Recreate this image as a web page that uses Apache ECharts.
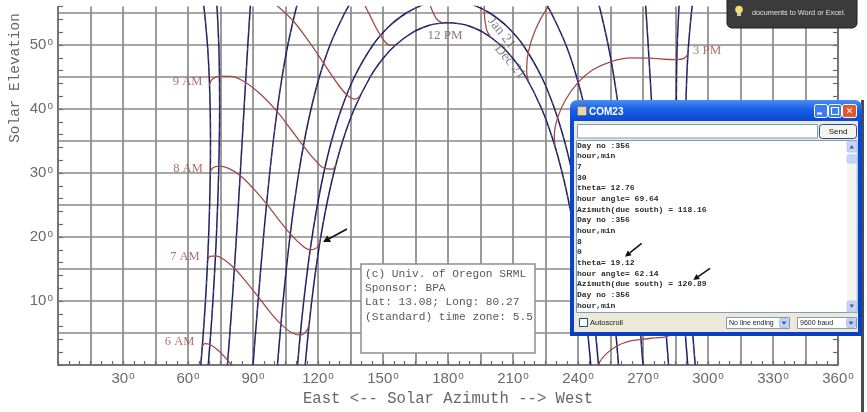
<!DOCTYPE html>
<html>
<head>
<meta charset="utf-8">
<script src="https://cdn.jsdelivr.net/npm/echarts@6.0.0/dist/echarts.min.js"></script>
<style>
html,body{margin:0;padding:0;background:#ffffff;}
#c{width:867px;height:412px;}
</style>
</head>
<body>
<div id="c"></div>
<script>
// ---------------- DATA (azimuth in degrees from north, elevation in degrees) ----------------
// Date arcs: elevation steps shared by branches that leave the top of the chart
const arcElev = [0, 5, 10, 15, 20, 25, 30, 35, 40, 45, 50, 55, 57];
const jun21Am = [65.9, 67.07, 68.06, 68.87, 69.51, 69.98, 70.28, 70.38, 70.24, 69.8, 68.99, 67.65, 66.91];
const jun21Pm = [294.1, 292.93, 291.94, 291.13, 290.49, 290.02, 289.72, 289.62, 289.76, 290.2, 291.01, 292.35, 293.09];
const may21Am = [69.34, 70.5, 71.5, 72.36, 73.09, 73.68, 74.15, 74.45, 74.6, 74.53, 74.21, 73.54, 73.14];
const may21Pm = [290.66, 289.5, 288.5, 287.64, 286.91, 286.32, 285.85, 285.55, 285.4, 285.47, 285.79, 286.46, 286.86];
const apr20Am = [78.19, 79.33, 80.39, 81.39, 82.34, 83.25, 84.13, 85.0, 85.86, 86.72, 87.61, 88.56, 88.96];
const apr20Pm = [281.81, 280.67, 279.61, 278.61, 277.66, 276.75, 275.87, 275.0, 274.14, 273.28, 272.39, 271.44, 271.04];
const mar20Am = [90, 91.16, 92.35, 93.57, 94.85, 96.22, 97.71, 99.36, 101.24, 103.43, 106.07, 109.38, 110.96];
const mar20Pm = [270, 268.84, 267.65, 266.43, 265.15, 263.78, 262.29, 260.64, 258.76, 256.57, 253.93, 250.62, 249.04];
const feb20Am = [101.3, 102.53, 103.88, 105.37, 107.04, 108.93, 111.12, 113.69, 116.79, 120.62, 125.55, 132.33, 135.84];
const feb20Pm = [258.7, 257.47, 256.12, 254.63, 252.96, 251.07, 248.88, 246.31, 243.21, 239.38, 234.45, 227.67, 224.16];
// Arcs that close over the top
const jan21Elev = [0, 5, 10, 15, 20, 25, 30, 35, 40, 45, 50, 53, 55, 56, 56.5, 56.92, 56.5, 56, 55, 53, 50, 45, 40, 35, 30, 25, 20, 15, 10, 5, 0];
const jan21Az = [110.55, 111.88, 113.42, 115.2, 117.27, 119.72, 122.65, 126.24, 130.79, 136.79, 145.38, 153.09, 160.74, 166.48, 170.8, 180,
                 189.2, 193.52, 199.26, 206.91, 214.62, 223.21, 229.21, 233.76, 237.35, 240.28, 242.73, 244.8, 246.58, 248.12, 249.45];
const dec21Elev = [0, 5, 10, 15, 20, 25, 30, 35, 40, 45, 48, 50, 52, 53, 53.3, 53.48, 53.3, 53, 52, 50, 48, 45, 40, 35, 30, 25, 20, 15, 10, 5, 0];
const dec21Az = [114.1, 115.48, 117.11, 119.02, 121.27, 123.98, 127.28, 131.39, 136.73, 144.08, 150.28, 155.8, 163.9, 170.7, 174.27, 180,
                 185.73, 189.3, 196.1, 204.2, 209.72, 215.92, 223.27, 228.61, 232.72, 236.02, 238.73, 240.98, 242.89, 244.52, 245.9];

// Hour lines (points ordered Dec 21 -> Jun 21)
const h6amAz = [83.48, 78.36, 73.9, 70.1, 67.67, 66.58];
const h6amEl = [-1.53, 0.72, 2.31, 3.2, 3.34, 2.81];
const h7amAz = [115.98, 114.7, 111.8, 107.74, 102.9, 98.14, 92.5, 86.76, 81.41, 76.7, 72.68, 70.13, 69.05];
const h7amEl = [6.59, 5.32, 4.66, 5.08, 6.39, 8.15, 10.61, 13.03, 15.11, 16.44, 17.05, 16.99, 16.35];
const h8amAz = [121.0, 119.5, 116.4, 112.2, 107.2, 102.27, 96.27, 90.0, 84.06, 78.75, 74.22, 71.4, 70.28];
const h8amEl = [19.45, 18.34, 18.0, 18.82, 20.5, 22.53, 25.18, 27.63, 29.6, 30.72, 31.07, 30.79, 30.07];
const h9amAz = [128.41, 126.57, 123.13, 118.63, 113.27, 107.85, 101.09, 93.78, 86.58, 80.06, 74.53, 71.17, 69.93];
const h9amEl = [31.49, 30.6, 30.71, 32.03, 34.23, 36.64, 39.62, 42.22, 44.15, 45.09, 45.15, 44.64, 43.82];
const h10amAz = [139.44, 137.13, 133.24, 128.41, 122.6, 116.52, 108.48, 99.12];
const h10amEl = [42.07, 41.54, 42.24, 44.25, 47.17, 50.2, 53.78, 56.74];
const h11amAz = [155.73, 152.93, 148.88, 144.22, 138.61];
const h11amEl = [49.98, 50.0, 51.51, 54.43, 58.35];
const h12pmAz = [177.3, 174.52, 171.41];
const h12pmEl = [53.45, 54.16, 56.56];
const h1pmAz = [199.63, 197.67, 196.69, 197.78];
const h1pmEl = [51.25, 52.57, 55.51, 59.5];
const h2pmAz = [217.28, 216.3, 217.03, 220.25, 226.12, 233.75];
const h2pmEl = [44.21, 45.86, 48.8, 52.3, 55.92, 58.8];
const h3pmAz = [229.4, 229.08, 230.58, 234.33, 240.08, 246.67, 255.35, 264.4, 272.75, 279.8, 285.6, 289.21, 290.74];
const h3pmEl = [34.13, 35.87, 38.62, 41.49, 44.16, 46.09, 47.42, 48.0, 47.95, 47.77, 47.73, 47.96, 48.62];
const h4pmAz = [237.51, 237.55, 239.39, 243.12, 248.41, 254.1, 261.29, 268.58, 275.28, 280.95, 285.61, 288.49, 289.63];
const h4pmEl = [22.35, 24.14, 26.62, 28.98, 30.98, 32.31, 33.1, 33.43, 33.38, 33.39, 33.64, 34.12, 34.88];
const h5pmAz = [243.02, 245.3, 253.93, 265.52, 277.87, 286.96, 290.37];
const h5pmEl = [9.65, 13.65, 17.15, 18.58, 18.86, 19.62, 21.14];
const h6pmAz = [247.22, 249.4, 253.12, 257.98, 262.97, 269.07, 275.19, 280.79, 289.35, 292.41];
const h6pmEl = [-1.86, 0.16, 1.78, 2.97, 3.66, 3.99, 4.24, 4.45, 5.73, 7.52];

// Tick labels
const xTickLabels = [30, 60, 90, 120, 150, 180, 210, 240, 270, 300, 330, 360];
const yTickLabels = [10, 20, 30, 40, 50];

// Serial monitor text
const monitorLines = ["Day no :356", "hour,min", "7", "30", "theta= 12.76", "hour angle= 69.64",
  "Azimuth(due south) = 118.16", "Day no :356", "hour,min", "8", "0", "theta= 19.12",
  "hour angle= 62.14", "Azimuth(due south) = 120.89", "Day no :356", "hour,min"];
const infoLines = ["(c) Univ. of Oregon SRML", "Sponsor: BPA", "Lat: 13.08; Long: 80.27", "(Standard) time zone: 5.5"];

// ---------------- BUILD ----------------
function pairs(az, el) { return az.map(function (a, i) { return [a, el[i]]; }); }

const navy = '#1f1f4e', blue = '#4a4ad8', brown = '#a14b48';
const series = [];
const dateBranches = [
  [jun21Am, arcElev], [jun21Pm, arcElev], [may21Am, arcElev], [may21Pm, arcElev],
  [apr20Am, arcElev], [apr20Pm, arcElev], [mar20Am, arcElev], [mar20Pm, arcElev],
  [feb20Am, arcElev], [feb20Pm, arcElev], [jan21Az, jan21Elev], [dec21Az, dec21Elev]
];
dateBranches.forEach(function (b) {
  const d = pairs(b[0], b[1]);
  series.push({ type: 'line', data: d, smooth: 0.3, symbol: 'none', silent: true, z: 3,
    lineStyle: { color: navy, width: 1.5 } });
  series.push({ type: 'line', data: d, smooth: 0.3, symbol: 'none', silent: true, z: 4,
    lineStyle: { color: blue, width: 0.9, type: [3, 6] } });
});
const hourLines = [[h6amAz, h6amEl], [h7amAz, h7amEl], [h8amAz, h8amEl], [h9amAz, h9amEl],
  [h10amAz, h10amEl], [h11amAz, h11amEl], [h12pmAz, h12pmEl], [h1pmAz, h1pmEl], [h2pmAz, h2pmEl],
  [h3pmAz, h3pmEl], [h4pmAz, h4pmEl], [h5pmAz, h5pmEl], [h6pmAz, h6pmEl]];
hourLines.forEach(function (h) {
  series.push({ type: 'line', data: pairs(h[0], h[1]), smooth: 0.35, symbol: 'none', silent: true, z: 5,
    lineStyle: { color: brown, width: 1.3 } });
});

// text annotations placed in data coordinates
const serif = '"Liberation Serif", serif';
const notes = [
  { t: '6 AM', v: [56.1, 3.6], c: brown, s: 12.5 },
  { t: '7 AM', v: [58.6, 16.9], c: brown, s: 12.5 },
  { t: '8 AM', v: [60.0, 30.6], c: brown, s: 12.5 },
  { t: '9 AM', v: [59.8, 44.3], c: brown, s: 12.5 },
  { t: '12 PM', v: [178.6, 51.4], c: '#6e5553', s: 13 },
  { t: '3 PM', v: [299.5, 49.1], c: brown, s: 13 },
  { t: 'Jan 21', v: [204.7, 51.9], c: '#666', s: 14, r: -52 },
  { t: 'Dec 21', v: [208.6, 47.4], c: '#666', s: 14, r: -50 }
];
series.push({
  type: 'scatter', symbolSize: 1, silent: true, z: 6,
  itemStyle: { color: 'rgba(0,0,0,0)' },
  data: notes.map(function (n) {
    return { value: n.v, label: { show: true, position: 'inside', formatter: n.t, color: n.c,
      fontSize: n.s, fontFamily: serif, rotate: n.r || 0 } };
  })
});

const labelRich = {
  n: { fontSize: 15, color: '#6a6a6a', fontFamily: '"Liberation Sans", Arial, sans-serif' },
  d: { fontSize: 10, color: '#6a6a6a', fontFamily: '"Liberation Sans", Arial, sans-serif', verticalAlign: 'top', padding: [0, 0, 0, 1] }
};
function degLabel(list) {
  return function (v) { return list.indexOf(v) >= 0 ? '{n|' + v + '}{d|o}' : ''; };
}

// ---------------- GRAPHIC (overlays) ----------------
const Z = 100;
const mono = '"Liberation Mono", monospace';
const g = [];
// axis title (y)
g.push({ type: 'text', x: 15, y: 78, rotation: Math.PI / 2, z: 10,
  style: { text: 'Solar Elevation', fill: '#666', font: '14.4px ' + mono, align: 'center', verticalAlign: 'middle' } });
// info box
g.push({ type: 'rect', shape: { x: 361, y: 264, width: 174, height: 89 }, z: 50,
  style: { fill: '#fff', stroke: '#8f8f8f', lineWidth: 1.5 } });
infoLines.forEach(function (t, i) {
  g.push({ type: 'text', x: 365, y: 274 + i * 14.2, z: 51,
    style: { text: t, fill: '#585858', font: '11.2px ' + mono, align: 'left', verticalAlign: 'middle' } });
});
// chart arrow
g.push({ type: 'line', shape: { x1: 347, y1: 229, x2: 329, y2: 238.7 }, z: 52, style: { stroke: '#111', lineWidth: 1.6 } });
g.push({ type: 'polygon', shape: { points: [[323, 242], [331, 241.9], [327.4, 235.4]] }, z: 52, style: { fill: '#111' } });

// tooltip (top right)
g.push({ type: 'rect', shape: { x: 727, y: -5, width: 130, height: 33, r: 5 }, z: Z,
  style: { fill: '#3b3b3b', stroke: '#1e1e1e', lineWidth: 1 } });
g.push({ type: 'circle', shape: { cx: 739, cy: 9.5, r: 3.8 }, z: Z + 1, style: { fill: '#f3df70' } });
g.push({ type: 'rect', shape: { x: 737, y: 13, width: 4, height: 3 }, z: Z + 1, style: { fill: '#c8c8c8' } });
g.push({ type: 'text', x: 752, y: 13, z: Z + 1,
  style: { text: 'documents to Word or Excel.', fill: '#e2e2e2', font: '7.3px "Liberation Sans", sans-serif', align: 'left', verticalAlign: 'middle' } });

// right dark edge
g.push({ type: 'rect', shape: { x: 861, y: 100, width: 3, height: 312 }, z: Z, style: { fill: '#4a4a4a' } });

// serial monitor window
g.push({ type: 'rect', shape: { x: 570, y: 100, width: 292, height: 236, r: [7, 7, 0, 0] }, z: Z,
  style: { fill: { type: 'linear', x: 0, y: 0, x2: 0, y2: 1, colorStops: [
    { offset: 0, color: '#4a8ef5' }, { offset: 0.04, color: '#1a5fe6' }, { offset: 0.09, color: '#0a48d4' }, { offset: 1, color: '#0a3fc2' }] } } });
g.push({ type: 'rect', shape: { x: 574, y: 121, width: 284, height: 211 }, z: Z + 1, style: { fill: '#ece9d8' } });
g.push({ type: 'rect', shape: { x: 577.5, y: 124.5, width: 240, height: 13.5 }, z: Z + 2, style: { fill: '#fff', stroke: '#7f9db9', lineWidth: 1 } });
g.push({ type: 'rect', shape: { x: 819.5, y: 124.5, width: 37, height: 14, r: 3 }, z: Z + 2, style: { fill: '#f5f4ef', stroke: '#2a4e8a', lineWidth: 1 } });
g.push({ type: 'text', x: 838, y: 131.5, z: Z + 3, style: { text: 'Send', fill: '#111', font: '8px "Liberation Sans", sans-serif', align: 'center', verticalAlign: 'middle' } });
g.push({ type: 'rect', shape: { x: 576.5, y: 140.5, width: 280.5, height: 172 }, z: Z + 2, style: { fill: '#fff', stroke: '#7f9db9', lineWidth: 1 } });
// scrollbar
g.push({ type: 'rect', shape: { x: 847, y: 141, width: 9.5, height: 171 }, z: Z + 3, style: { fill: '#f4f4f0' } });
g.push({ type: 'rect', shape: { x: 847, y: 141, width: 9.5, height: 11, r: 2 }, z: Z + 4, style: { fill: '#c6d6fb', stroke: '#b0c4ee', lineWidth: 0.8 } });
g.push({ type: 'polygon', shape: { points: [[849.5, 148.5], [854, 148.5], [851.75, 145]] }, z: Z + 5, style: { fill: '#4d6185' } });
g.push({ type: 'rect', shape: { x: 847, y: 155, width: 9.5, height: 8, r: 2 }, z: Z + 4, style: { fill: '#c6d6fb', stroke: '#b0c4ee', lineWidth: 0.8 } });
g.push({ type: 'rect', shape: { x: 847, y: 301, width: 9.5, height: 11, r: 2 }, z: Z + 4, style: { fill: '#c6d6fb', stroke: '#b0c4ee', lineWidth: 0.8 } });
g.push({ type: 'polygon', shape: { points: [[849.5, 304.5], [854, 304.5], [851.75, 308]] }, z: Z + 5, style: { fill: '#4d6185' } });
monitorLines.forEach(function (t, i) {
  g.push({ type: 'text', x: 577, y: 145.7 + i * 10.66, z: Z + 4,
    style: { text: t, fill: '#2a2a2a', font: 'bold 8px ' + mono, align: 'left', verticalAlign: 'middle' } });
});
// bottom row
g.push({ type: 'rect', shape: { x: 579.5, y: 318.5, width: 8, height: 8 }, z: Z + 2, style: { fill: '#fff', stroke: '#1c5180', lineWidth: 1 } });
g.push({ type: 'text', x: 590, y: 322.8, z: Z + 2, style: { text: 'Autoscroll', fill: '#222', font: '7.5px "Liberation Sans", sans-serif', align: 'left', verticalAlign: 'middle' } });
g.push({ type: 'rect', shape: { x: 726.5, y: 317.5, width: 63, height: 11 }, z: Z + 2, style: { fill: '#fff', stroke: '#7f9db9', lineWidth: 1 } });
g.push({ type: 'text', x: 729, y: 323, z: Z + 3, style: { text: 'No line ending', fill: '#222', font: '7px "Liberation Sans", sans-serif', align: 'left', verticalAlign: 'middle' } });
g.push({ type: 'rect', shape: { x: 779.5, y: 318.5, width: 9, height: 9, r: 1.5 }, z: Z + 3, style: { fill: '#c1d3fb', stroke: '#a9bde8', lineWidth: 0.8 } });
g.push({ type: 'polygon', shape: { points: [[781.5, 321.5], [786.5, 321.5], [784, 325]] }, z: Z + 4, style: { fill: '#4d6185' } });
g.push({ type: 'rect', shape: { x: 797.5, y: 317.5, width: 59, height: 11 }, z: Z + 2, style: { fill: '#fff', stroke: '#7f9db9', lineWidth: 1 } });
g.push({ type: 'text', x: 800, y: 323, z: Z + 3, style: { text: '9600 baud', fill: '#222', font: '7px "Liberation Sans", sans-serif', align: 'left', verticalAlign: 'middle' } });
g.push({ type: 'rect', shape: { x: 846.5, y: 318.5, width: 9, height: 9, r: 1.5 }, z: Z + 3, style: { fill: '#c1d3fb', stroke: '#a9bde8', lineWidth: 0.8 } });
g.push({ type: 'polygon', shape: { points: [[848.5, 321.5], [853.5, 321.5], [851, 325]] }, z: Z + 4, style: { fill: '#4d6185' } });
// title
g.push({ type: 'rect', shape: { x: 577.5, y: 106.5, width: 9, height: 9, r: 1 }, z: Z + 2, style: { fill: '#e3d7b5', stroke: '#8a6d3b', lineWidth: 0.8 } });
g.push({ type: 'text', x: 589, y: 112, z: Z + 2, style: { text: 'COM23', fill: '#fff', font: 'bold 10px "Liberation Sans", sans-serif', align: 'left', verticalAlign: 'middle' } });
g.push({ type: 'rect', shape: { x: 814.5, y: 104.5, width: 13, height: 13, r: 2 }, z: Z + 2, style: { fill: '#3c7bf2', stroke: '#fff', lineWidth: 1 } });
g.push({ type: 'rect', shape: { x: 817, y: 112.5, width: 5, height: 2 }, z: Z + 3, style: { fill: '#fff' } });
g.push({ type: 'rect', shape: { x: 828.5, y: 104.5, width: 13, height: 13, r: 2 }, z: Z + 2, style: { fill: '#3c7bf2', stroke: '#fff', lineWidth: 1 } });
g.push({ type: 'rect', shape: { x: 831.5, y: 107.5, width: 7, height: 7 }, z: Z + 3, style: { fill: 'none', stroke: '#fff', lineWidth: 1.2 } });
g.push({ type: 'rect', shape: { x: 842.5, y: 104.5, width: 14, height: 13, r: 2 }, z: Z + 2, style: { fill: '#e0582c', stroke: '#fff', lineWidth: 1 } });
g.push({ type: 'text', x: 849.5, y: 111.5, z: Z + 3, style: { text: '✕', fill: '#fff', font: 'bold 9px "DejaVu Sans", sans-serif', align: 'center', verticalAlign: 'middle' } });
// window arrows
g.push({ type: 'line', shape: { x1: 641.7, y1: 243.3, x2: 629.7, y2: 252.9 }, z: Z + 5, style: { stroke: '#111', lineWidth: 1.5 } });
g.push({ type: 'polygon', shape: { points: [[625, 256.7], [631.6, 255.3], [627.8, 250.6]] }, z: Z + 5, style: { fill: '#111' } });
g.push({ type: 'line', shape: { x1: 710, y1: 268.3, x2: 698.2, y2: 276.6 }, z: Z + 5, style: { stroke: '#111', lineWidth: 1.5 } });
g.push({ type: 'polygon', shape: { points: [[693.3, 280], [699.9, 279.0], [696.5, 274.1]] }, z: Z + 5, style: { fill: '#111' } });

// ---------------- OPTION ----------------
const axisGray = '#6a6a6a';
const option = {
  animation: false,
  backgroundColor: '#ffffff',
  grid: { left: 58, top: 6.6, width: 780, height: 358.4 },
  xAxis: [{
    type: 'value', min: 0, max: 360, interval: 15,
    axisLine: { show: true, lineStyle: { color: axisGray, width: 1.5 } },
    axisTick: { show: true, inside: true, length: 4, lineStyle: { color: axisGray, width: 1.2 } },
    minorTick: { show: true, splitNumber: 3, length: 4, lineStyle: { color: axisGray, width: 1.2 } },
    splitLine: { show: true, lineStyle: { color: '#8a8a8a', width: 1.7 } },
    axisLabel: { show: true, margin: 6, formatter: degLabel(xTickLabels), rich: labelRich },
    name: 'East <-- Solar Azimuth --> West', nameLocation: 'middle', nameGap: 23,
    nameTextStyle: { fontFamily: mono, fontSize: 15.6, color: '#666' }
  }],
  yAxis: [{
    type: 'value', min: 0, max: 56, interval: 5, position: 'left',
    axisLine: { show: true, lineStyle: { color: axisGray, width: 1.5 } },
    axisTick: { show: false },
    splitLine: { show: true, showMaxLine: false, lineStyle: { color: '#8a8a8a', width: 1.7 } },
    axisLabel: { show: true, margin: 5, formatter: degLabel(yTickLabels), rich: labelRich }
  }, {
    type: 'value', min: 0, max: 56, interval: 2, position: 'left',
    axisLine: { show: false }, axisLabel: { show: false }, splitLine: { show: false },
    axisTick: { show: true, inside: true, length: 5, lineStyle: { color: axisGray, width: 1.2 } }
  }, {
    type: 'value', min: 0, max: 56, interval: 2, position: 'right',
    axisLine: { show: true, lineStyle: { color: axisGray, width: 1.5 } }, axisLabel: { show: false }, splitLine: { show: false },
    axisTick: { show: true, inside: true, length: 5, lineStyle: { color: axisGray, width: 1.2 } }
  }],
  series: series,
  graphic: { elements: g }
};

const chart = echarts.init(document.getElementById('c'), null, { renderer: 'canvas' });
chart.setOption(option);
</script>
</body>
</html>
